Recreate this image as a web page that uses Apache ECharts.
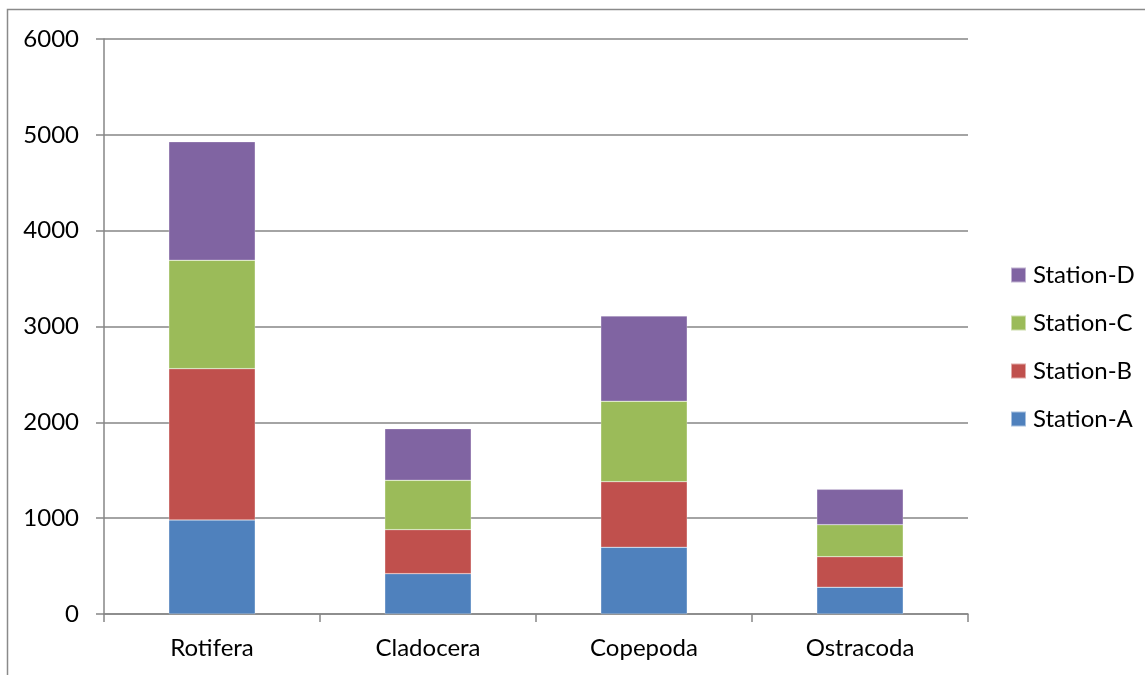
<!DOCTYPE html>
<html><head><meta charset="utf-8">
<script src="https://cdn.jsdelivr.net/npm/echarts@6/dist/echarts.min.js"></script>
<style>html,body{margin:0;padding:0;background:#fff}#c{width:1145px;height:675px}</style>
</head><body><div id="c"></div>
<script>
const categories = ['Rotifera','Cladocera','Copepoda','Ostracoda'];
const stationA = [981, 421, 696, 279];
const stationB = [1579, 459, 685, 319];
const stationC = [1131, 515, 839, 334];
const stationD = [1237, 539, 890, 369];
const yTicks = {min: 0, max: 6000, interval: 1000};
const seriesNames = ['Station-A','Station-B','Station-C','Station-D'];
const colors = ['#4F81BD','#C0504D','#9BBB59','#8064A2'];

const font = 'Lato, "Open Sans", sans-serif';
const chart = echarts.init(document.getElementById('c'));
const datasets = [stationA, stationB, stationC, stationD];
chart.setOption({
  animation: false,
  backgroundColor: '#fff',
  grid: {left: 104, right: 177, top: 39, bottom: 61},
  graphic: [{
    type: 'rect', shape: {x: 7.5, y: 9.5, width: 1300, height: 900},
    style: {fill: 'none', stroke: '#8a8a8a', lineWidth: 1.5}, silent: true
  }],
  legend: {
    orient: 'vertical', left: 1010, top: 263, padding: 0,
    data: ['Station-D','Station-C','Station-B','Station-A'],
    itemWidth: 15, itemHeight: 15, itemGap: 24, icon: 'rect',
    textStyle: {fontFamily: font, fontSize: 24, color: '#000', lineHeight: 24, padding: [0,0,0,2]}
  },
  xAxis: {
    type: 'category', data: categories,
    axisLine: {lineStyle: {color: '#868686', width: 1.5}},
    axisTick: {show: true, length: 8, lineStyle: {color: '#868686', width: 1.5}},
    axisLabel: {fontFamily: font, fontSize: 24, color: '#000', margin: 22}
  },
  yAxis: {
    type: 'value', min: yTicks.min, max: yTicks.max, interval: yTicks.interval,
    axisLine: {show: true, lineStyle: {color: '#868686', width: 1.5}},
    axisTick: {show: true, length: 8, lineStyle: {color: '#868686', width: 1.5}},
    splitLine: {lineStyle: {color: '#868686', width: 1.5}},
    axisLabel: {fontFamily: font, fontSize: 24, color: '#000', margin: 25, formatter: v => String(v)}
  },
  series: seriesNames.map((n, i) => ({
    name: n, type: 'bar', stack: 'total', data: datasets[i],
    barWidth: '40%',
    itemStyle: {color: colors[i], borderColor: 'rgba(255,255,255,0.5)', borderWidth: 0.5}
  }))
});
</script></body></html>
